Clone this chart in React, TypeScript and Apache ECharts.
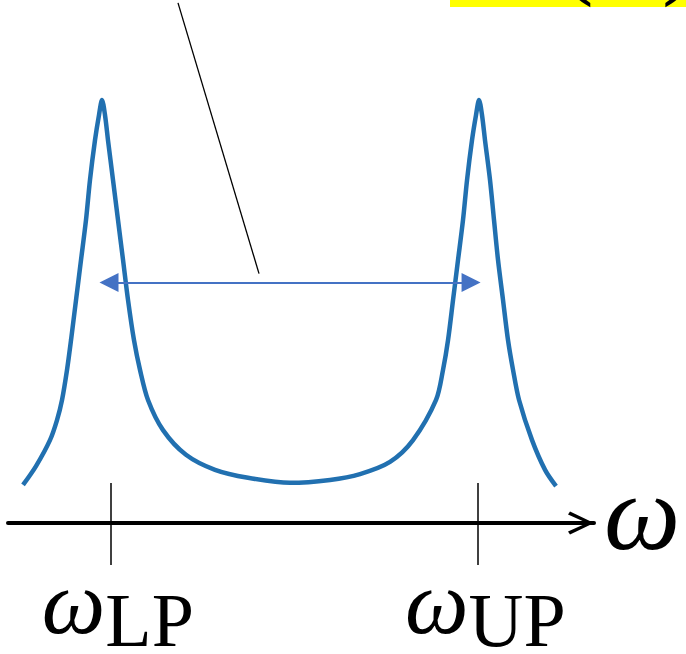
import React, { useEffect, useRef } from "react";
import * as echarts from "echarts";

// Transmission spectrum: frequency (arb. units) and intensity (arb. units)
const omega = [
  0.282, 0.526, 0.788, 0.92, 1.014, 1.108, 1.183, 1.277, 1.371, 1.464, 1.539,
  1.633, 1.708, 1.765, 1.821, 1.877, 1.971, 2.065, 2.159, 2.253, 2.365, 2.478,
  2.628, 2.91, 3.341, 3.886, 4.505, 5.294, 6.045, 6.608, 7.171, 7.603, 8.035,
  8.166, 8.26, 8.354, 8.448, 8.541, 8.617, 8.71, 8.785, 8.842, 8.898, 8.954,
  9.048, 9.123, 9.198, 9.292, 9.386, 9.48, 9.593, 9.837, 10.081, 10.287,
];
const intensity = [
  0.091, 0.136, 0.198, 0.246, 0.294, 0.366, 0.437, 0.533, 0.629, 0.724, 0.82,
  0.915, 0.975, 1.011, 0.975, 0.915, 0.82, 0.724, 0.629, 0.533, 0.437, 0.366,
  0.294, 0.222, 0.163, 0.127, 0.108, 0.096, 0.103, 0.117, 0.146, 0.198, 0.294,
  0.366, 0.437, 0.533, 0.629, 0.724, 0.82, 0.915, 0.975, 1.011, 0.975, 0.915,
  0.82, 0.724, 0.629, 0.533, 0.437, 0.366, 0.294, 0.198, 0.127, 0.088,
];

// Polariton branch frequencies marked on the axis
const branchValues = [1.92, 8.82];
const branchNames = ["LP", "UP"];

// Double-headed arrow spanning the splitting, and the pointer line to it
const splitArrowFrom = [1.896, 0.575];
const splitArrowTo = [8.692, 0.575];
const pointerFrom = [3.191, 1.243];
const pointerTo = [4.712, 0.596];

const X_MAX = 11;
const Y_MAX = 1.25;

const chevron = "path://M11.5,0 L23,24 L20,26 L11.5,7 L3,26 L0,24 Z";

export default function App() {
  const ref = useRef<HTMLDivElement>(null);

  useEffect(() => {
    if (!ref.current) return;
    const chart = echarts.init(ref.current, undefined, { renderer: "svg" });

    const ticks = {
      show: true,
      customValues: branchValues,
      lineStyle: { color: "#000", width: 1.5 },
    };

    chart.setOption({
      animation: false,
      backgroundColor: "#fff",
      grid: {
        left: 8,
        right: 92,
        top: 0,
        bottom: 131,
        containLabel: false,
        outerBoundsMode: "none",
      },
      xAxis: [
        {
          type: "value",
          min: 0,
          max: X_MAX,
          position: "bottom",
          axisLine: {
            show: true,
            onZero: false,
            symbol: ["none", chevron],
            symbolSize: [23, 26],
            symbolOffset: [0, -13],
            lineStyle: { color: "#000", width: 4 },
          },
          axisTick: { ...ticks, inside: false, length: 42 },
          axisLabel: {
            show: true,
            customValues: branchValues,
            margin: 39,
            padding: [0, 0, 0, 15],
            formatter: (v: number) => {
              const i = branchValues.indexOf(v);
              return `{w|ω}{s|${branchNames[i] ?? ""}}`;
            },
            rich: {
              w: {
                fontFamily: "Liberation Serif",
                fontStyle: "italic",
                fontSize: 90,
                lineHeight: 80,
                color: "#000",
              },
              s: {
                fontFamily: "Liberation Serif",
                fontSize: 76,
                lineHeight: 24,
                padding: [36, 0, 0, 0],
                color: "#000",
              },
            },
          },
          splitLine: { show: false },
          name: "ω",
          nameLocation: "end",
          nameGap: 10,
          nameTextStyle: {
            fontFamily: "Liberation Serif",
            fontStyle: "italic",
            fontSize: 108,
            color: "#000",
            verticalAlign: "bottom",
            lineHeight: 22,
          },
        },
        {
          type: "value",
          min: 0,
          max: X_MAX,
          position: "bottom",
          axisLine: { show: false, onZero: false },
          axisTick: { ...ticks, inside: true, length: 40 },
          axisLabel: { show: false },
          splitLine: { show: false },
        },
      ],
      yAxis: {
        type: "value",
        min: 0,
        max: Y_MAX,
        show: false,
        splitLine: { show: false },
      },
      graphic: [
        {
          type: "rect",
          right: 0,
          top: 0,
          shape: { width: 236, height: 7 },
          style: { fill: "#ffff00" },
          z: 10,
        },
        {
          type: "text",
          x: 559,
          y: 1,
          z: 11,
          style: {
            text: "(ω)",
            font: '104px "Liberation Serif"',
            fill: "#000",
            verticalAlign: "bottom",
          },
        },
      ],
      series: [
        {
          type: "line",
          data: omega.map((w, i) => [w, intensity[i]]),
          smooth: 0.3,
          showSymbol: false,
          lineStyle: { color: "#2170b0", width: 4.5 },
          silent: true,
          markLine: {
            silent: true,
            symbol: ["triangle", "triangle"],
            symbolSize: 19,
            label: { show: false },
            lineStyle: { color: "#4472c4", width: 2, type: "solid" },
            data: [[{ coord: splitArrowFrom }, { coord: splitArrowTo }]],
          },
        },
        {
          type: "line",
          data: [],
          silent: true,
          markLine: {
            silent: true,
            symbol: ["none", "none"],
            label: { show: false },
            lineStyle: { color: "#000", width: 1.3, type: "solid" },
            data: [[{ coord: pointerFrom }, { coord: pointerTo }]],
          },
        },
      ],
    });

    return () => chart.dispose();
  }, []);

  return (
    <div
      ref={ref}
      style={{ position: "fixed", left: 0, top: 0, width: 686, height: 654 }}
    />
  );
}
